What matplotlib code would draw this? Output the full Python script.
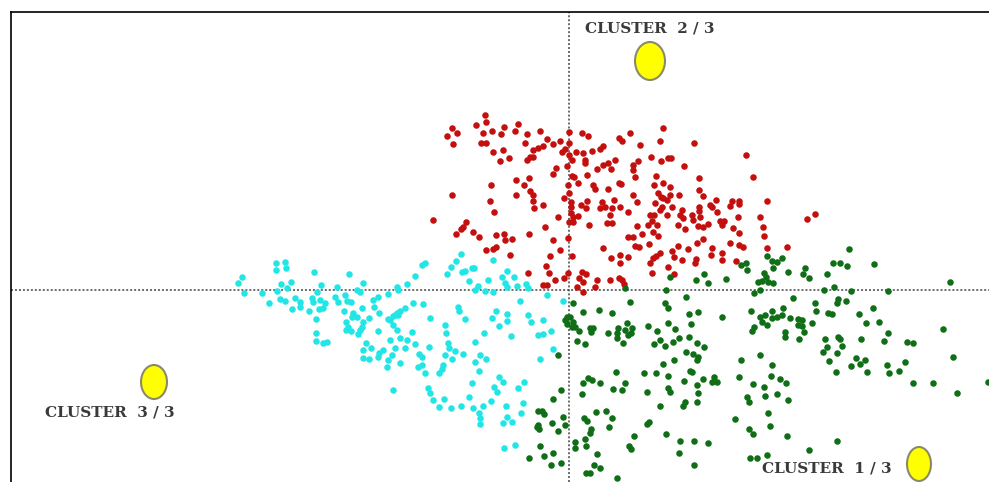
import matplotlib
matplotlib.use('Agg')
import matplotlib.pyplot as plt
from matplotlib.patches import Ellipse

# points, as (x, y) on the factor plane
red_pts = [(485,115),(486,122),(452,128),(457,133),(447,136),(453,144),(476,125),(483,133),(492,131),(504,127),(501,134),(518,124),(515,131),(527,134),(540,131),(525,143),(481,143),(486,143),(493,152),(503,150),(500,161),(509,158),(547,139),(553,144),(560,141),(569,132),(569,143),(582,133),(588,136),(538,148),(533,150),(543,146),(530,157),(527,160),(533,157),(562,152),(565,149),(569,155),(576,152),(583,153),(592,151),(600,149),(603,146),(619,138),(572,160),(567,166),(585,160),(585,163),(615,160),(597,169),(603,165),(608,163),(611,169),(556,168),(553,174),(572,176),(574,177),(587,175),(516,180),(529,178),(524,185),(491,185),(568,185),(578,183),(593,185),(595,189),(608,189),(619,183),(530,191),(533,195),(452,195),(516,195),(569,193),(564,198),(490,201),(533,201),(571,202),(587,201),(602,202),(614,200),(534,208),(543,205),(571,207),(581,205),(586,208),(600,208),(605,207),(612,208),(494,212),(571,213),(610,215),(558,217),(578,216),(573,217),(433,220),(466,222),(463,227),(461,229),(545,227),(569,222),(573,222),(589,225),(607,223),(612,223),(456,234),(473,232),(479,237),(496,235),(504,234),(505,240),(512,239),(529,234),(568,238),(553,240),(603,248),(496,247),(493,249),(486,250),(560,250),(510,255),(550,256),(572,256),(611,258),(546,266),(620,263),(549,273),(528,273),(568,273),(582,272),(586,274),(555,280),(564,278),(579,278),(583,282),(597,280),(610,280),(595,287),(577,287),(543,285),(547,285),(583,292),(619,278),
           (663,128),(630,133),(622,141),(660,141),(640,145),(694,143),(746,155),(651,157),(638,161),(661,161),(668,158),(671,158),(684,166),(633,165),(633,170),(635,177),(656,176),(699,178),(753,177),(621,184),(654,185),(663,183),(670,187),(699,190),(658,193),(661,197),(663,198),(670,195),(679,195),(633,195),(703,196),(667,200),(637,202),(655,203),(716,200),(732,201),(730,206),(739,201),(739,204),(767,201),(710,205),(712,207),(662,207),(672,207),(660,210),(682,210),(699,207),(699,211),(620,207),(628,212),(717,212),(692,215),(680,215),(683,218),(700,217),(667,215),(650,215),(654,215),(738,217),(760,217),(815,214),(807,219),(652,221),(648,225),(657,225),(637,226),(678,225),(693,220),(698,226),(703,227),(708,224),(720,221),(724,221),(722,225),(685,229),(733,228),(763,227),(653,232),(642,234),(658,236),(628,237),(633,237),(739,233),(764,236),(703,239),(697,243),(730,243),(635,246),(639,247),(649,244),(678,246),(688,249),(712,248),(739,245),(743,247),(767,248),(787,247),(660,253),(656,256),(653,258),(628,257),(620,255),(672,251),(674,257),(711,255),(722,253),(722,260),(682,260),(696,259),(695,263),(736,261),(650,263),(668,267),(652,273),(674,274),(622,280),(624,284)]

green_pts = [(704,274),(696,280),(708,283),(726,279),(670,277),(625,288),
             (849,249),(874,264),(833,263),(840,263),(847,266),(767,256),(772,261),(777,262),(782,258),(773,268),(741,265),(746,263),(747,270),(788,272),(805,268),(803,274),(809,278),(827,274),(764,273),(766,277),(758,282),(762,281),(768,282),(773,283),(950,282),(760,290),(754,293),(824,290),(834,287),(851,291),(888,291),(793,298),(846,301),(838,299),(837,303),(815,303),(816,311),(873,308),(751,311),(772,311),(783,308),(765,315),(760,317),(762,322),(767,325),(772,318),(777,317),(782,315),(790,318),(828,313),(832,314),(859,314),(798,319),(802,320),(798,325),(802,326),(812,323),(866,323),(879,322),(754,327),(752,331),(785,332),(785,337),(804,332),(888,333),(943,329),(799,339),(825,339),(838,337),(840,339),(861,339),(884,341),(907,342),(913,343),(842,346),(827,347),(823,352),(837,353),(760,355),(741,360),(829,361),(856,358),(865,360),(860,364),(953,357),(772,365),(851,366),(887,365),(905,362),(836,372),(867,372),(889,373),(899,371),(739,377),(771,376),(780,379),(786,383),(753,384),(764,387),(913,383),(933,383),(988,382),(765,396),(777,394),(747,397),(749,402),(788,400),(957,393),(768,413),(735,419),(770,426),(749,429),(753,434),(787,436),(837,441),(809,450),(767,455),(750,458),(757,458),
             (630,302),(666,290),(686,297),(573,303),(665,303),(668,308),(583,312),(599,310),(612,313),(698,312),(689,314),(722,317),(567,317),(570,317),(565,320),(573,322),(567,324),(572,327),(575,327),(579,331),(590,328),(593,328),(591,332),(627,323),(632,328),(618,328),(617,333),(625,330),(628,335),(631,333),(608,333),(617,338),(623,343),(577,341),(585,344),(648,326),(657,331),(668,323),(691,324),(675,329),(660,340),(654,344),(665,346),(673,342),(679,338),(689,337),(697,343),(704,347),(686,352),(693,354),(698,357),(697,360),(558,355),(674,360),(663,364),(616,372),(644,373),(656,373),(668,376),(690,371),(692,372),(588,378),(592,380),(583,383),(600,383),(625,383),(684,381),(703,379),(697,385),(714,377),(712,382),(717,382),(613,389),(622,390),(668,388),(670,392),(647,392),(698,393),(561,390),(582,394),(553,399),(660,406),(697,402),(685,402),(683,406),(538,411),(542,411),(544,414),(596,412),(606,411),(612,418),(563,417),(584,418),(587,421),(552,423),(649,422),(647,424),(538,425),(539,429),(537,427),(565,425),(609,427),(558,431),(591,429),(590,433),(666,434),(634,436),(575,442),(585,439),(680,441),(694,441),(708,443),(540,446),(575,448),(586,446),(629,446),(631,449),(553,453),(544,456),(597,454),(679,453),(529,458),(561,463),(551,465),(594,465),(600,468),(694,465),(586,473),(590,473),(617,478)]

cyan_pts = [(276,263),(285,262),(276,270),(286,268),(314,272),(349,274),(242,277),(238,283),(244,293),(262,293),(269,303),(281,284),(291,282),(277,291),(287,288),(321,285),(337,287),(363,283),(357,290),(360,292),(280,299),(285,301),(295,298),(300,302),(292,309),(300,307),(312,298),(317,292),(313,302),(309,311),(335,297),(345,295),(347,301),(351,302),(320,300),(325,303),(323,308),(319,309),(338,302),(344,311),(362,308),(316,319),(353,313),(352,317),(357,317),(369,318),(346,322),(348,327),(346,330),(351,331),(363,322),(362,327),(360,330),(358,334),(373,300),(378,297),(388,294),(397,287),(374,307),(379,313),(388,319),(395,315),(378,331),(316,333),(316,341),(323,343),(327,342),(390,340),(366,343),(371,348),(363,350),(363,358),(369,359),(383,350),(379,353),(378,357),(395,348),(392,355),(388,360),(387,367),(393,390),(400,363),(393,325),(397,330),
            (461,254),(456,261),(451,267),(447,274),(425,263),(422,265),(415,276),(462,272),(465,271),(472,268),(474,268),(493,260),(507,271),(469,281),(488,280),(502,277),(514,277),(505,283),(507,287),(517,286),(526,284),(528,288),(478,286),(475,290),(485,291),(493,292),(407,284),(398,290),(547,295),(563,301),(520,301),(413,303),(423,304),(405,308),(400,311),(397,313),(393,316),(390,320),(398,315),(458,307),(459,311),(430,318),(465,319),(496,311),(507,314),(507,321),(492,318),(499,326),(528,315),(531,322),(543,320),(445,325),(446,333),(412,332),(484,333),(511,336),(538,335),(543,334),(551,331),(475,342),(400,338),(407,340),(415,344),(405,348),(429,347),(448,343),(449,348),(455,351),(445,355),(452,359),(463,354),(480,355),(486,359),(475,362),(419,354),(422,357),(422,365),(418,367),(443,365),(442,369),(439,373),(425,373),(479,371),(553,349),(540,359),(524,382),(518,388),(472,383),(499,377),(503,382),(494,387),(497,392),(428,388),(430,393),(433,400),(444,399),(439,407),(451,408),(461,406),(469,397),(473,408),(483,406),(491,401),(506,406),(523,403),(521,413),(479,413),(480,418),(480,424),(507,417),(503,423),(512,422),(504,448),(515,445)]

centre_x = [919, 650, 154]
centre_y = [464, 61, 382]
centre_w = [24, 30, 26]
centre_h = [34, 38, 34]
labels = ['CLUSTER  1 / 3', 'CLUSTER  2 / 3', 'CLUSTER  3 / 3']
label_x = [762, 585, 45]
label_y = [468, 29, 412]

W, H = 989, 482
fig = plt.figure(figsize=(W / 100, H / 100), dpi=100)
ax = fig.add_axes([11 / W, 0, 1 - 11 / W, 1 - 12 / H])
ax.set_xlim(11, 989)
ax.set_ylim(482, 12)

ax.axhline(290, color='#444444', lw=1.1, ls=(0, (1.3, 1.3)), zorder=1)
ax.axvline(569, color='#444444', lw=1.1, ls=(0, (1.3, 1.3)), zorder=1)

for pts, col in [(cyan_pts, '#22e6e6'), (red_pts, '#c40f0f'), (green_pts, '#0f6e16')]:
    ax.plot([p[0] for p in pts], [p[1] for p in pts], 'o', color=col, ms=4.7, mew=0, zorder=2)

for x, y, w, h in zip(centre_x, centre_y, centre_w, centre_h):
    ax.add_patch(Ellipse((x, y), w, h, fc='#ffff00', ec='#8a8a6a', lw=1.5, zorder=3))

for x, y, s in zip(label_x, label_y, labels):
    ax.text(x, y, s, family='DejaVu Serif', weight='bold', fontsize=11, color='#3a3a3a',
            ha='left', va='center', zorder=4)

ax.set_xticks([])
ax.set_yticks([])
ax.spines['right'].set_visible(False)
ax.spines['bottom'].set_visible(False)
ax.spines['left'].set_linewidth(1.2)
ax.spines['top'].set_linewidth(1.2)

fig.savefig('out.png', dpi=100)
